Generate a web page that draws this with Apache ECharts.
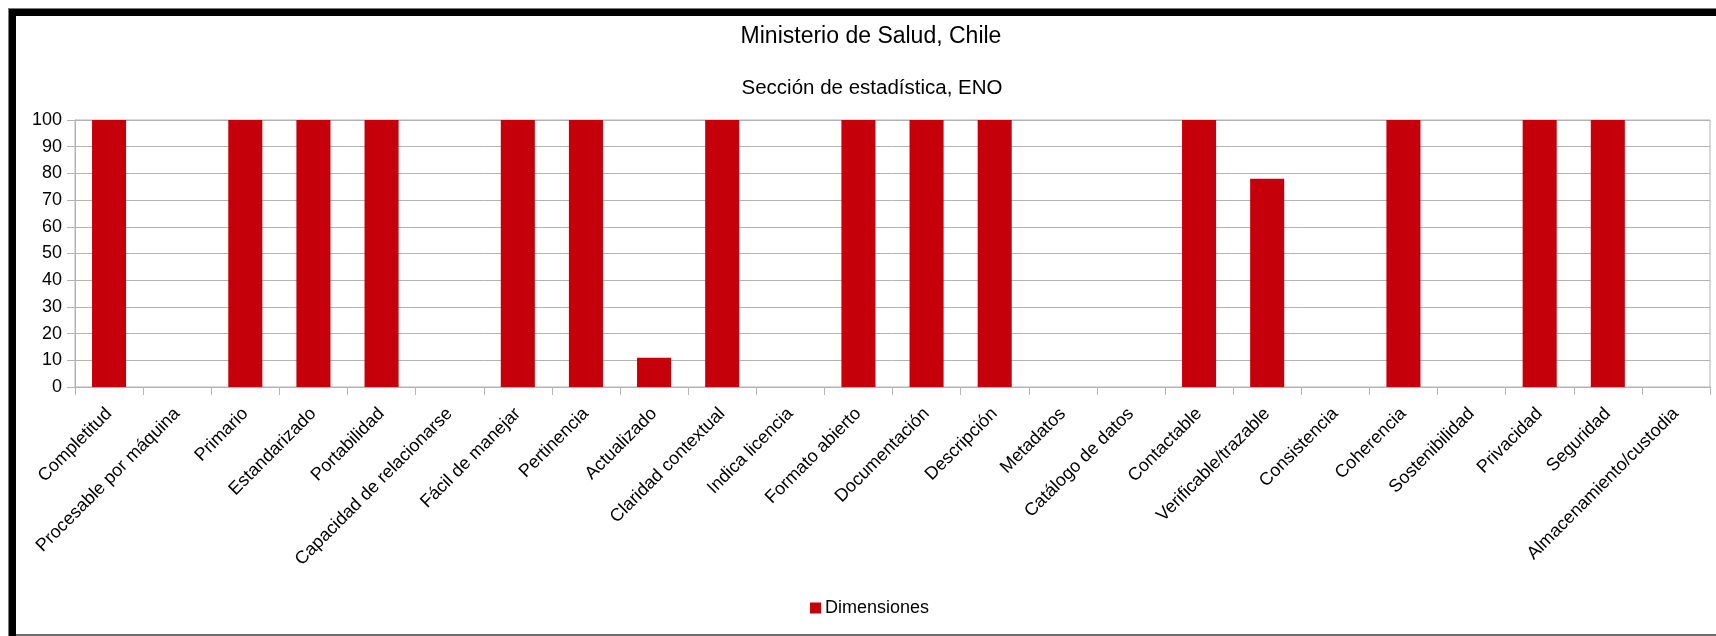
<!DOCTYPE html>
<html>
<head>
<meta charset="utf-8">
<style>
  html, body { margin: 0; padding: 0; background: #fff; }
  #chart { width: 1716px; height: 636px; }
</style>
<script src="https://cdn.jsdelivr.net/npm/echarts@6/dist/echarts.min.js"></script>
</head>
<body>
<div id="chart"></div>
<script>
// Dimensiones evaluadas
const categories = [
  'Completitud', 'Procesable por máquina', 'Primario', 'Estandarizado',
  'Portabilidad', 'Capacidad de relacionarse', 'Fácil de manejar', 'Pertinencia',
  'Actualizado', 'Claridad contextual', 'Indica licencia', 'Formato abierto',
  'Documentación', 'Descripción', 'Metadatos', 'Catálogo de datos',
  'Contactable', 'Verificable/trazable', 'Consistencia', 'Coherencia',
  'Sostenibilidad', 'Privacidad', 'Seguridad', 'Almacenamiento/custodia'
];

// Puntaje por dimensión (%)
const dimensiones = [
  100, 0, 100, 100,
  100, 0, 100, 100,
  11, 100, 0, 100,
  100, 100, 0, 0,
  100, 78, 0, 100,
  0, 100, 100, 0
];

const titleText = 'Ministerio de Salud, Chile';
const subtitleText = 'Sección de estadística, ENO';
const seriesName = 'Dimensiones';

const FONT = '"Liberation Sans", Arial, sans-serif';
const RED = '#c5000b';
const GRID_GREY = '#b3b3b3';

const chart = echarts.init(document.getElementById('chart'), null, { renderer: 'canvas' });

chart.setOption({
  backgroundColor: '#ffffff',
  animation: false,
  textStyle: { fontFamily: FONT, color: '#000' },
  title: [
    {
      text: titleText,
      left: 866, top: 20, textAlign: 'center',
      textStyle: { fontFamily: FONT, fontSize: 23, fontWeight: 'normal', color: '#000' }
    },
    {
      text: subtitleText,
      left: 867, top: 73, textAlign: 'center',
      textStyle: { fontFamily: FONT, fontSize: 20.5, fontWeight: 'normal', color: '#000' }
    }
  ],
  legend: {
    data: [seriesName],
    left: 805, top: 594,
    icon: 'rect', itemWidth: 11, itemHeight: 11, itemGap: 10,
    textStyle: { fontFamily: FONT, fontSize: 18, color: '#000', padding: [0, 0, 0, -1] }
  },
  grid: {
    left: 75, right: 6, top: 120, bottom: 249,
    show: true, borderColor: GRID_GREY, borderWidth: 1,
    containLabel: false
  },
  xAxis: {
    type: 'category',
    data: categories,
    boundaryGap: true,
    axisLine: { show: true, lineStyle: { color: GRID_GREY, width: 1 } },
    axisTick: { show: true, length: 8, alignWithLabel: false, lineStyle: { color: GRID_GREY } },
    axisLabel: {
      interval: 0, rotate: 45, margin: 24,
      fontFamily: FONT, fontSize: 18, color: '#000'
    },
    splitLine: { show: false }
  },
  yAxis: {
    type: 'value',
    min: 0, max: 100, interval: 10,
    axisLine: { show: true, lineStyle: { color: GRID_GREY, width: 1 } },
    axisTick: { show: true, length: 8, lineStyle: { color: GRID_GREY } },
    axisLabel: { margin: 13, fontFamily: FONT, fontSize: 18, color: '#000' },
    splitLine: { show: true, lineStyle: { color: GRID_GREY, width: 1 } }
  },
  series: [
    {
      name: seriesName,
      type: 'bar',
      data: dimensiones,
      barWidth: '50%',
      itemStyle: { color: RED }
    }
  ],
  graphic: [
    // marco exterior: línea gris fina y borde negro grueso arriba e izquierda
    { type: 'rect', silent: true, shape: { x: 8, y: 8, width: 1708, height: 1 }, style: { fill: '#7a7a7a' } },
    { type: 'rect', silent: true, shape: { x: 8, y: 8, width: 1, height: 628 }, style: { fill: '#7a7a7a' } },
    { type: 'rect', silent: true, shape: { x: 9, y: 9, width: 1707, height: 7 }, style: { fill: '#000' } },
    { type: 'rect', silent: true, shape: { x: 9, y: 9, width: 7, height: 627 }, style: { fill: '#000' } },
    { type: 'rect', silent: true, shape: { x: 16, y: 634, width: 1700, height: 2 }, style: { fill: '#6e6e6e' } }
  ]
});
</script>
</body>
</html>
